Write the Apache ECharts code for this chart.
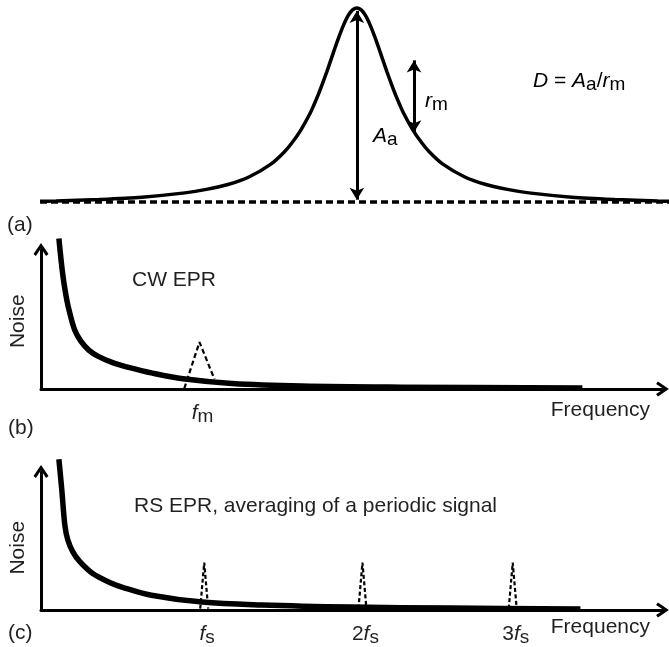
<!DOCTYPE html>
<html><head><meta charset="utf-8">
<script src="https://cdn.jsdelivr.net/npm/echarts@6/dist/echarts.min.js"></script>
<style>html,body{margin:0;padding:0;background:#fff}#c{width:669px;height:647px}</style>
</head><body><div id="c"></div>
<script>
// ---- Panel (a): Lorentzian absorption line ----
const lorentzX = [-7.37,-7,-6,-5,-4,-3.5,-3,-2.5,-2,-1.7,-1.5,-1.3,-1.1,-1,-0.9,-0.8,-0.7,-0.6,-0.5,-0.4,-0.3,-0.2,-0.1,0,0.1,0.2,0.3,0.4,0.5,0.6,0.7,0.8,0.9,1,1.1,1.3,1.5,1.7,2,2.5,3,3.5,4,5,6,7,7.26];
const lorentzY = [0.004,0.005,0.013,0.025,0.047,0.065,0.09,0.13,0.195,0.255,0.308,0.372,0.452,0.5,0.552,0.61,0.671,0.735,0.8,0.862,0.917,0.962,0.99,1,0.99,0.962,0.917,0.862,0.8,0.735,0.671,0.61,0.552,0.5,0.452,0.372,0.308,0.255,0.195,0.13,0.09,0.065,0.047,0.025,0.013,0.005,0.004];
const baselineX = [-7.37, 7.26];
const arrowAa = [0, 0.012, 0.985];      // x, from, to
const arrowRm = [1.33, 0.36, 0.73];

// ---- Panel (b): CW EPR noise spectrum ----
const noiseBX = [2.88,3.52,4.16,4.64,5.44,6.41,7.69,9.13,11.53,13.93,17.93,23.22,30.74,41.95,57.97,87.11];
const noiseBY = [10.79,8.14,6.36,5.43,4.21,3.43,2.79,2.36,1.89,1.57,1.14,0.71,0.39,0.21,0.13,0.07];
const peakBX = [23.06, 25.5, 27.9];
const peakBY = [0.05, 3.36, 0.71];
const ticksB = [25.5];
const tickLabelsB = ['{i|f}{s|m}'];

// ---- Panel (c): RS EPR noise spectrum ----
const noiseCX = [2.88,3.36,3.84,4.32,5.12,6.25,8.33,11.05,13.13,17.77,25.94,35.55,49.96,65.97,86.79];
const noiseCY = [10.89,8.61,6.12,5.05,4.2,3.49,2.63,1.99,1.64,1.07,0.57,0.36,0.21,0.14,0.07];
const spikeCX = [26.26, 51.72, 75.9];
const spikeCH = [3.42, 3.42, 3.42];
const tickLabelsC = ['{i|f}{s|s}', '{n|2}{i|f}{s|s}', '{n|3}{i|f}{s|s}'];

const FONT = "'Liberation Sans', Arial, Helvetica, sans-serif";
const TXT = '#231f20';
const FS = 21;
const rich = {
  i: {fontStyle:'italic', fontSize:FS, fontFamily:FONT, color:TXT, lineHeight:26},
  s: {fontSize:19, fontFamily:FONT, color:TXT, lineHeight:18, verticalAlign:'bottom'},
  n: {fontSize:FS, fontFamily:FONT, color:TXT, lineHeight:26}
};
const chevron = 'path://M0,11 L7.5,0 L15,11 L12.6,12.8 L7.5,5.2 L2.4,12.8 Z';

const zip = (xs, ys) => xs.map((x, i) => [x, ys[i]]);
const spikeHalf = 0.64;
const spikeSeries = spikeCX.map((x, i) => ({
  type:'line', xAxisIndex:2, yAxisIndex:2, showSymbol:false, silent:true, clip:false, z:5,
  data:[[x - spikeHalf, 0.1], [x, spikeCH[i]], [x + spikeHalf, 0.1]],
  lineStyle:{color:'#000', width:2.2, type:[4,2.5]}
}));

const axisArrowLine = {show:true, symbol:['none', chevron], symbolSize:[15,13], lineStyle:{color:'#000', width:3}};

const chart = echarts.init(document.getElementById('c'), null, {renderer:'canvas'});
chart.setOption({
  animation:false,
  backgroundColor:'#fff',
  textStyle:{fontFamily:FONT},
  grid:[
    {left:40, right:0, top:8, bottom:445},
    {left:38, right:6.5, top:249.5, bottom:258},
    {left:38, right:6.5, top:471.5, bottom:36}
  ],
  xAxis:[
    {gridIndex:0, type:'value', min:-7.37, max:7.26, show:false},
    {gridIndex:1, type:'value', min:0, max:100,
     axisLine:axisArrowLine, axisTick:{show:false}, splitLine:{show:false},
     axisLabel:{show:true, customValues:ticksB, margin:11, padding:[0,0,0,6], formatter:() => tickLabelsB[0], rich:rich},
     name:'Frequency', nameLocation:'end', nameGap:-12.5,
     nameTextStyle:{fontSize:FS, color:TXT, align:'right', verticalAlign:'top', lineHeight:26, padding:[8,0,0,0]}},
    {gridIndex:2, type:'value', min:0, max:100,
     axisLine:axisArrowLine, axisTick:{show:false}, splitLine:{show:false},
     axisLabel:{show:true, customValues:spikeCX, margin:11, padding:[0,0,0,6], formatter:(v) => tickLabelsC[spikeCX.indexOf(v)], rich:rich},
     name:'Frequency', nameLocation:'end', nameGap:-12.5,
     nameTextStyle:{fontSize:FS, color:TXT, align:'right', verticalAlign:'top', lineHeight:26, padding:[4,0,0,0]}}
  ],
  yAxis:[
    {gridIndex:0, type:'value', min:0, max:1, show:false},
    {gridIndex:1, type:'value', min:0, max:10,
     axisLine:axisArrowLine, axisTick:{show:false}, axisLabel:{show:false}, splitLine:{show:false},
     name:'Noise', nameLocation:'middle', nameGap:12, nameTextStyle:{fontSize:FS, color:TXT, padding:[0,4,0,0]}},
    {gridIndex:2, type:'value', min:0, max:10,
     axisLine:axisArrowLine, axisTick:{show:false}, axisLabel:{show:false}, splitLine:{show:false},
     name:'Noise', nameLocation:'middle', nameGap:12, nameTextStyle:{fontSize:FS, color:TXT, padding:[0,14,0,0]}}
  ],
  series:[
    {type:'line', xAxisIndex:0, yAxisIndex:0, showSymbol:false, silent:true, clip:false,
     data: baselineX.map(x => [x, 0]),
     lineStyle:{color:'#000', width:3.5, type:[7,4]}},
    {type:'line', xAxisIndex:0, yAxisIndex:0, showSymbol:false, silent:true, clip:false, smooth:0.3,
     data: zip(lorentzX, lorentzY),
     lineStyle:{color:'#000', width:3.5},
     markLine:{silent:true, symbol:['arrow','arrow'], symbolSize:[11,12], label:{show:false},
       lineStyle:{color:'#000', width:3, type:'solid'},
       data:[
         [{coord:[arrowAa[0], arrowAa[1]]}, {coord:[arrowAa[0], arrowAa[2]]}],
         [{coord:[arrowRm[0], arrowRm[1]]}, {coord:[arrowRm[0], arrowRm[2]]}]
       ]}},
    {type:'line', xAxisIndex:1, yAxisIndex:1, showSymbol:false, silent:true, clip:false, smooth:0.35,
     data: zip(noiseBX, noiseBY), lineStyle:{color:'#000', width:5.5, join:'round'}},
    {type:'line', xAxisIndex:1, yAxisIndex:1, showSymbol:false, silent:true, clip:false,
     data: zip(peakBX, peakBY), lineStyle:{color:'#000', width:2.2, type:[5,3]}},
    {type:'line', xAxisIndex:2, yAxisIndex:2, showSymbol:false, silent:true, clip:false, smooth:0.35,
     data: zip(noiseCX, noiseCY), lineStyle:{color:'#000', width:5.5, join:'round'}},
    ...spikeSeries
  ],
  graphic:[
    {type:'text', x:533, y:81, style:{text:'{i|D}{n| = }{i|A}{s|a}{n|/}{i|r}{s|m}', rich:rich, verticalAlign:'middle'}},
    {type:'text', x:425, y:101, style:{text:'{i|r}{s|m}', rich:rich, verticalAlign:'middle'}},
    {type:'text', x:373, y:136, style:{text:'{i|A}{s|a}', rich:rich, verticalAlign:'middle'}},
    {type:'text', x:7, y:225, style:{text:'(a)', fontSize:FS, fontFamily:FONT, fill:TXT, verticalAlign:'middle'}},
    {type:'text', x:132, y:280, style:{text:'CW EPR', fontSize:FS, fontFamily:FONT, fill:TXT, verticalAlign:'middle'}},
    {type:'text', x:8, y:428, style:{text:'(b)', fontSize:FS, fontFamily:FONT, fill:TXT, verticalAlign:'middle'}},
    {type:'text', x:134, y:506, style:{text:'RS EPR, averaging of a periodic signal', fontSize:FS, fontFamily:FONT, fill:TXT, verticalAlign:'middle'}},
    {type:'text', x:8, y:633, style:{text:'(c)', fontSize:FS, fontFamily:FONT, fill:TXT, verticalAlign:'middle'}}
  ]
});
</script></body></html>
